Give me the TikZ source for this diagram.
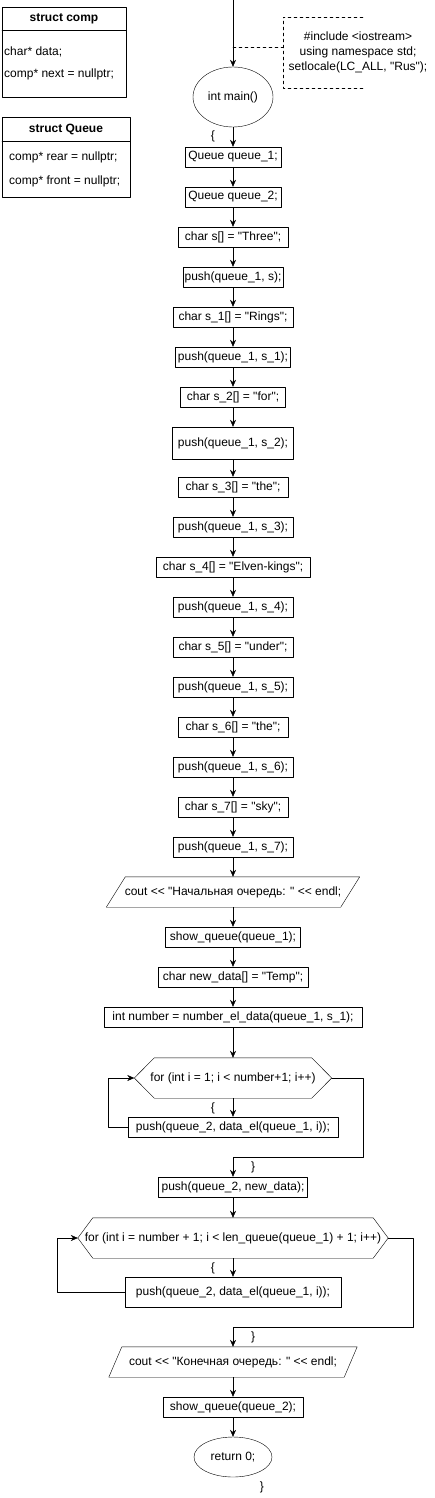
\documentclass[tikz,border=0pt]{standalone}
\usepackage{fontspec}
\setmainfont{Liberation Sans}[Ligatures=TeXOff]
\usetikzlibrary{arrows.meta,shapes.geometric}
\tikzset{
	blok/.style={draw, rectangle, minimum height=20pt, inner sep=0pt},
	oval/.style={draw, ellipse, inner sep=0pt},
	fld/.style={anchor=west, inner sep=0pt},
	hid/.style={rectangle, inner sep=0pt}
}
\begin{document}
\begin{tikzpicture}[x=1pt, y=-1pt, >={Stealth[length=7pt,width=6pt]}, font=\fontsize{12}{15}\selectfont, line join=round, line cap=round]
		\useasboundingbox (0,0) rectangle (434,1498);
		% structs
		\draw (2,7) rectangle (126,97); \draw (2,30)--(126,30);
		\node (comp) at (64,18.5) {\textbf{struct comp}};
		\node[fld] (cdata) at (4,52) {char* data;};
		\node[fld] (cnext) at (4,74) {comp* next = nullptr;};
		\draw (2,117) rectangle (130,197); \draw (2,141)--(130,141);
		\node (queue) at (66,129) {\textbf{struct Queue}};
		\node[fld] (qrear) at (9,157) {comp* rear = nullptr;};
		\node[fld] (qfront) at (9,181) {comp* front = nullptr;};
		% start + note
		\coordinate (top) at (233,0);
		\coordinate (link) at (233,47);
		\coordinate (nb) at (283,47);
		\draw[dash pattern=on 3pt off 3pt] (363,17)--(283,17)--(283,88)--(363,88);
		\draw[dash pattern=on 3pt off 3pt] (link)--(nb);
		\node[align=center] (note) at (358,52) {\#include <iostream>\\using namespace std;\\setlocale(LC\_ALL, "Rus");};
		\node[oval, minimum width=80pt, minimum height=60pt] (main) at (233,97) {int main()};
		\draw[->] (top)--(main);
		% declarations
		\foreach \n/\y/\w/\t in {q1/157/96/{Queue queue\_1;}, q2/197/96/{Queue queue\_2;},
			c0/237/110/{char s[] = "Three";}, p0/277/100/{push(queue\_1, s);},
			c1/317/120/{char s\_1[] = "Rings";}, p1/357/115/{push(queue\_1, s\_1);},
			c2/397/105/{char s\_2[] = "for";},
			c3/487/110/{char s\_3[] = "the";}, p3/527/120/{push(queue\_1, s\_3);},
			c4/567/154/{char s\_4[] = "Elven-kings";}, p4/607/120/{push(queue\_1, s\_4);},
			c5/647/120/{char s\_5[] = "under";}, p5/687/120/{push(queue\_1, s\_5);},
			c6/727/110/{char s\_6[] = "the";}, p6/767/120/{push(queue\_1, s\_6);},
			c7/807/110/{char s\_7[] = "sky";}, p7/847/120/{push(queue\_1, s\_7);},
			sq1/937/135/{show\_queue(queue\_1);}, nd/977/150/{char new\_data[] = "Temp";},
			num/1017/258/{int number = number\_el\_data(queue\_1, s\_1);},
			body1/1127/210/{push(queue\_2, data\_el(queue\_1, i));},
			nq2/1187/149/{push(queue\_2, new\_data);},
			sq2/1407/140/{show\_queue(queue\_2);}}
		\node[blok, minimum width=\w] (\n) at (233,\y) {\t};
		\node[blok, minimum width=121pt, minimum height=32pt] (p2) at (233,443) {push(queue\_1, s\_2);};
		\node[blok, minimum width=216pt, minimum height=30pt] (body2) at (233,1292) {push(queue\_2, data\_el(queue\_1, i));};
		% output
		\node[hid, minimum width=253pt, minimum height=30pt] (out1) at (233,892) {cout <{}< "Начальная очередь: " <{}< endl;};
		\draw (out1.south west)--([xshift=19pt]out1.north west)--(out1.north east)--([xshift=-19pt]out1.south east)--cycle;
		\node[hid, minimum width=248pt, minimum height=30pt] (out2) at (233,1362) {cout <{}< "Конечная очередь: " <{}< endl;};
		\draw (out2.south west)--([xshift=13pt]out2.north west)--(out2.north east)--([xshift=-13pt]out2.south east)--cycle;
		% loops
		\node[hid, minimum width=197pt, minimum height=40pt] (for1) at (233,1078) {for (int i = 1; i < number+1; i++)};
		\draw (for1.west)--([xshift=20pt]for1.north west)--([xshift=-20pt]for1.north east)--(for1.east)
			--([xshift=-20pt]for1.south east)--([xshift=20pt]for1.south west)--cycle;
		\node[hid, minimum width=310pt, minimum height=40pt] (for2) at (233,1238) {for (int i = number + 1; i < len\_queue(queue\_1) + 1; i++)};
		\draw (for2.west)--([xshift=15pt]for2.north west)--([xshift=-15pt]for2.north east)--(for2.east)
			--([xshift=-15pt]for2.south east)--([xshift=15pt]for2.south west)--cycle;
		\node[oval, minimum width=78pt, minimum height=40pt] (ret) at (233,1457) {return 0;};
		% arrows
		\foreach \a/\b in {main/q1,q1/q2,q2/c0,c0/p0,p0/c1,c1/p1,p1/c2,c2/p2,p2/c3,c3/p3,p3/c4,c4/p4,p4/c5,c5/p5,
			p5/c6,c6/p6,p6/c7,c7/p7,p7/out1,out1/sq1,sq1/nd,nd/num,num/for1,for1/body1,nq2/for2,for2/body2,out2/sq2,sq2/ret}
		\draw[->] (\a)--(\b);
		\draw[->] (body1.west)--++(-20,0) |- (for1.west);
		\draw[->] (for1.east) -| (363,1157) -| (nq2.north);
		\draw[->] (body2.west)--++(-68,0) |- (for2.west);
		\draw[->] (for2.east) -| (413,1327) -| (out2.north);
		% braces
		\node (ob0) at (213,136) {\{};
		\node (ob1) at (213,1108) {\{};
		\node (cb1) at (253,1167) {\}};
		\node (ob2) at (213,1268) {\{};
		\node (cb2) at (253,1337) {\}};
		\node (cb0) at (262,1487) {\}};
\end{tikzpicture}
\end{document}
